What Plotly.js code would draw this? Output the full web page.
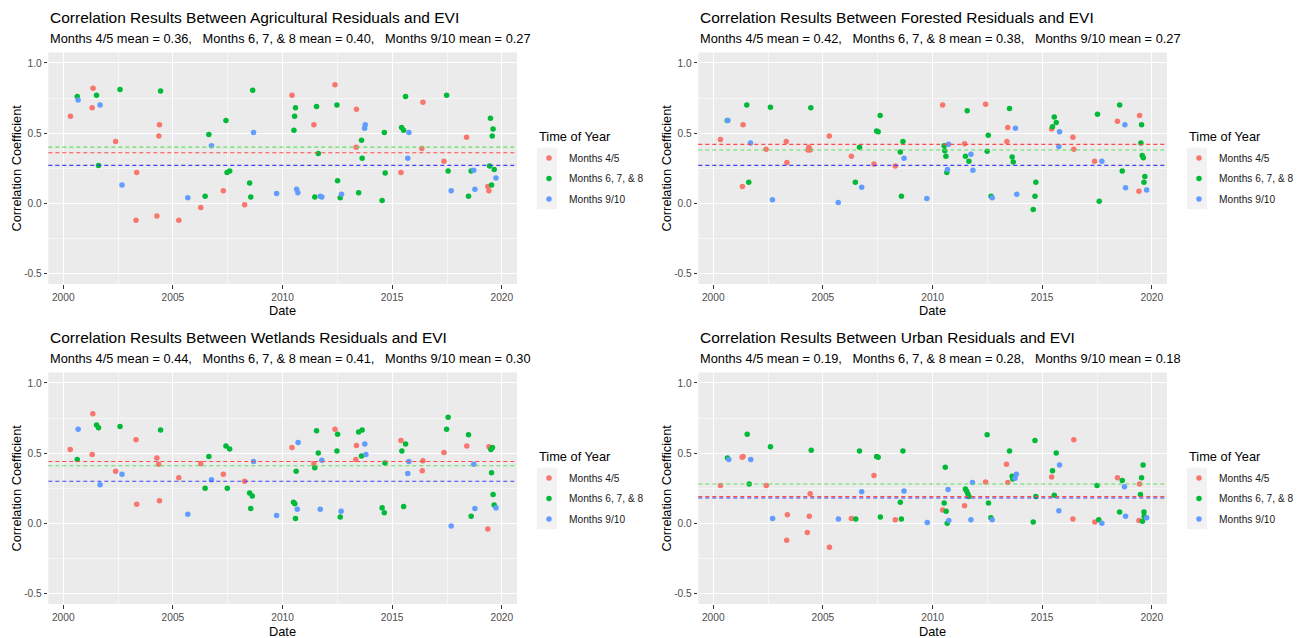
<!DOCTYPE html>
<html>
<head>
<meta charset="utf-8">
<script src="https://cdn.plot.ly/plotly-3.0.1.min.js"></script>
<style>html,body{margin:0;padding:0;background:#fff;}#chart{width:1300px;height:638px;}</style>
</head>
<body>
<div id="chart"></div>
<script>
// ---------------- DATA ----------------
const groupNames = ['Months 4/5', 'Months 6, 7, & 8', 'Months 9/10'];
const landTypes = ['Agricultural', 'Forested', 'Wetlands', 'Urban'];
const legendTitle = 'Time of Year';
const xTickVals = [2000, 2005, 2010, 2015, 2020];
const xTickText = ['2000', '2005', '2010', '2015', '2020'];
const yTickVals = [-0.5, 0, 0.5, 1];
const yTickText = ['-0.5', '0.0', '0.5', '1.0'];

// Agricultural
const agr_m45_date = [2000.33,2001.32,2001.36,2002.39,2003.32,2003.35,2004.27,2004.36,2004.39,2005.27,2006.27,2007.30,2008.27,2010.43,2011.43,2012.39,2013.36,2013.37,2015.40,2016.35,2016.40,2017.36,2018.39,2019.36,2019.41];
const agr_m45_r    = [0.62,0.68,0.82,0.44,-0.12,0.22,-0.09,0.48,0.56,-0.12,-0.03,0.09,-0.01,0.77,0.56,0.845,0.40,0.67,0.22,0.39,0.72,0.30,0.47,0.12,0.09];
const agr_m678_date = [2000.64,2001.52,2001.61,2002.59,2004.44,2006.47,2006.64,2007.42,2007.47,2007.59,2008.50,2008.55,2008.64,2010.52,2010.55,2010.59,2011.47,2011.55,2011.63,2012.48,2012.51,2012.63,2013.47,2013.60,2013.63,2014.54,2014.64,2014.68,2015.43,2015.52,2015.61,2017.48,2017.55,2018.48,2018.60,2019.44,2019.48,2019.53,2019.56,2019.60,2019.65];
const agr_m678_r    = [0.76,0.77,0.27,0.81,0.80,0.05,0.49,0.59,0.22,0.23,0.145,0.045,0.805,0.52,0.62,0.68,0.045,0.69,0.355,0.70,0.16,0.04,0.075,0.45,0.32,0.02,0.505,0.215,0.54,0.52,0.76,0.77,0.23,0.05,0.23,0.265,0.605,0.13,0.48,0.53,0.24];
const agr_m910_date = [2000.68,2001.68,2002.68,2005.68,2006.76,2008.68,2009.73,2010.64,2010.70,2011.72,2011.79,2012.69,2013.74,2013.77,2015.71,2015.76,2017.69,2018.72,2018.77,2019.73];
const agr_m910_r    = [0.735,0.70,0.13,0.04,0.41,0.505,0.07,0.10,0.075,0.05,0.045,0.065,0.535,0.56,0.32,0.505,0.09,0.235,0.10,0.18];
const agr_means = [0.36, 0.40, 0.27];

// Forested
const for_m45_date = [2000.33,2001.33,2001.36,2002.41,2003.33,2003.36,2004.32,2004.36,2004.42,2005.29,2006.30,2007.33,2008.30,2010.46,2011.46,2012.42,2013.39,2013.43,2015.43,2016.40,2016.44,2017.39,2018.43,2019.41,2019.44];
const for_m45_r    = [0.455,0.12,0.56,0.385,0.44,0.29,0.38,0.40,0.38,0.48,0.335,0.28,0.265,0.70,0.425,0.705,0.44,0.54,0.53,0.47,0.385,0.30,0.585,0.085,0.625];
const for_m678_date = [2000.64,2001.53,2001.62,2002.61,2004.45,2006.48,2006.67,2007.45,2007.52,2007.61,2008.53,2008.58,2008.65,2010.53,2010.56,2010.61,2010.65,2011.50,2011.58,2011.66,2012.49,2012.54,2012.67,2013.51,2013.63,2013.68,2014.59,2014.67,2014.71,2015.47,2015.55,2015.64,2017.52,2017.60,2018.53,2018.65,2019.50,2019.53,2019.56,2019.61,2019.64,2019.68];
const for_m678_r    = [0.59,0.70,0.15,0.685,0.68,0.15,0.40,0.515,0.51,0.625,0.365,0.05,0.44,0.41,0.375,0.335,0.22,0.335,0.66,0.30,0.37,0.485,0.05,0.675,0.33,0.295,-0.045,0.05,0.15,0.545,0.615,0.575,0.635,0.015,0.70,0.23,0.43,0.56,0.34,0.325,0.15,0.19];
const for_m910_date = [2000.67,2001.70,2002.70,2005.70,2006.77,2008.70,2009.74,2010.68,2010.73,2011.75,2011.84,2012.72,2013.78,2013.84,2015.76,2015.79,2017.72,2018.77,2018.80,2019.76];
const for_m910_r    = [0.59,0.43,0.025,0.005,0.115,0.32,0.035,0.24,0.42,0.35,0.235,0.04,0.535,0.065,0.405,0.51,0.30,0.56,0.11,0.095];
const for_means = [0.42, 0.38, 0.27];

// Wetlands
const wet_m45_date = [2000.32,2001.32,2001.35,2002.39,2003.32,2003.35,2004.27,2004.35,2004.39,2005.27,2006.27,2007.30,2008.27,2010.43,2011.43,2012.39,2013.34,2013.37,2015.40,2016.37,2016.40,2017.36,2018.40,2019.36,2019.41];
const wet_m45_r    = [0.525,0.49,0.78,0.37,0.595,0.135,0.465,0.42,0.16,0.325,0.425,0.35,0.30,0.54,0.425,0.67,0.455,0.555,0.59,0.375,0.445,0.505,0.55,-0.04,0.545];
const wet_m678_date = [2000.64,2001.52,2001.61,2002.59,2004.44,2006.47,2006.64,2007.42,2007.48,2007.59,2008.50,2008.55,2008.62,2010.50,2010.56,2010.59,2010.62,2011.47,2011.55,2011.63,2012.48,2012.51,2012.63,2013.47,2013.60,2013.63,2014.54,2014.64,2014.67,2015.44,2015.52,2015.61,2017.48,2017.55,2018.48,2018.60,2019.50,2019.53,2019.57,2019.60,2019.65];
const wet_m678_r    = [0.455,0.70,0.68,0.69,0.665,0.25,0.475,0.55,0.25,0.53,0.215,0.105,0.195,0.15,0.14,0.035,0.37,0.395,0.66,0.50,0.515,0.635,0.045,0.65,0.48,0.665,0.11,0.075,0.43,0.515,0.12,0.565,0.67,0.755,0.63,0.05,0.525,0.36,0.54,0.205,0.13];
const wet_m910_date = [2000.68,2001.68,2002.68,2005.68,2006.76,2008.68,2009.73,2010.67,2010.71,2011.72,2011.79,2012.67,2013.75,2013.80,2015.71,2015.76,2017.69,2018.72,2018.77,2019.73];
const wet_m910_r    = [0.67,0.275,0.35,0.065,0.31,0.44,0.055,0.10,0.575,0.10,0.45,0.085,0.565,0.49,0.355,0.44,-0.02,0.42,0.105,0.11];
const wet_means = [0.44, 0.41, 0.30];

// Urban
const urb_m45_date = [2000.33,2001.32,2001.36,2002.42,2003.35,2003.38,2004.29,2004.38,2004.42,2005.30,2006.30,2007.33,2008.30,2010.46,2011.46,2012.42,2013.37,2013.43,2015.43,2016.40,2016.44,2017.40,2018.43,2019.41,2019.44];
const urb_m45_r    = [0.27,0.47,0.475,0.27,-0.12,0.06,-0.065,0.05,0.21,-0.17,0.035,0.34,0.025,0.095,0.125,0.295,0.42,0.29,0.33,0.03,0.595,0.01,0.325,0.02,0.28];
const urb_m678_date = [2000.65,2001.55,2001.64,2002.61,2004.47,2006.50,2006.67,2007.45,2007.52,2007.62,2008.53,2008.58,2008.65,2010.53,2010.58,2010.62,2010.67,2011.50,2011.55,2011.61,2011.66,2012.49,2012.55,2012.66,2013.51,2013.63,2013.66,2014.59,2014.67,2014.71,2015.47,2015.55,2015.64,2017.50,2017.58,2018.53,2018.65,2019.48,2019.53,2019.57,2019.60,2019.64,2019.65];
const urb_m678_r    = [0.465,0.635,0.28,0.545,0.52,0.03,0.515,0.475,0.47,0.045,0.15,0.03,0.515,0.145,0.40,0.085,0.0,0.245,0.23,0.21,0.19,0.63,0.145,0.04,0.515,0.335,0.315,0.01,0.59,0.19,0.375,0.20,0.50,0.27,0.025,0.08,0.305,0.205,0.325,0.015,0.415,0.08,0.05];
const urb_m910_date = [2000.71,2001.71,2002.71,2005.71,2006.77,2008.70,2009.76,2010.71,2010.74,2011.75,2011.82,2012.72,2013.76,2013.82,2015.76,2015.79,2017.72,2018.75,2018.80,2019.76];
const urb_m910_r    = [0.455,0.455,0.035,0.03,0.225,0.23,0.005,0.24,0.02,0.025,0.29,0.025,0.32,0.35,0.09,0.415,0.0,0.26,0.05,0.04];
const urb_means = [0.19, 0.28, 0.18];

// ---------------- STYLE ----------------
const W = 1300, H = 638;
const FONT = 'Liberation Sans, Arial, Helvetica, sans-serif';
const pointColors = ['#F8766D', '#00BA38', '#619CFF'];
const meanColors = ['#FF4A4A', '#5EE05E', '#4242FF'];

const panels = [
  {land: landTypes[0], groups: [[agr_m45_date, agr_m45_r], [agr_m678_date, agr_m678_r], [agr_m910_date, agr_m910_r]], means: agr_means, left: 48.3, top: 52.4},
  {land: landTypes[1], groups: [[for_m45_date, for_m45_r], [for_m678_date, for_m678_r], [for_m910_date, for_m910_r]], means: for_means, left: 698.3, top: 52.4},
  {land: landTypes[2], groups: [[wet_m45_date, wet_m45_r], [wet_m678_date, wet_m678_r], [wet_m910_date, wet_m910_r]], means: wet_means, left: 48.3, top: 372.4},
  {land: landTypes[3], groups: [[urb_m45_date, urb_m45_r], [urb_m678_date, urb_m678_r], [urb_m910_date, urb_m910_r]], means: urb_means, left: 698.3, top: 372.4}
];
const PW = 468.7, PH = 231.6;
const KEY_H = 20.5;

const px = v => v / W;
const py = v => 1 - v / H;

const data = [];
const layout = {
  width: W, height: H,
  margin: {l: 0, r: 0, t: 0, b: 0},
  paper_bgcolor: '#ffffff',
  plot_bgcolor: '#EBEBEB',
  font: {family: FONT, color: '#000000'},
  showlegend: true,
  shapes: [],
  annotations: []
};

panels.forEach((p, i) => {
  const n = i === 0 ? '' : String(i + 1);
  const xa = 'x' + n, ya = 'y' + n;
  const legName = 'legend' + n;
  const xDom = [px(p.left), px(p.left + PW)];
  const yDom = [py(p.top + PH), py(p.top)];

  layout['xaxis' + n] = {
    domain: xDom, anchor: ya, range: [1999.32, 2020.69],
    tickmode: 'array', tickvals: xTickVals, ticktext: xTickText,
    showgrid: true, gridcolor: '#FFFFFF', gridwidth: 1.1,
    minor: {tickmode: 'array', tickvals: [2002.5, 2007.5, 2012.5, 2017.5], showgrid: true, gridcolor: '#FFFFFF', gridwidth: 0.55, ticks: ''},
    zeroline: false, showline: false,
    ticks: 'outside', ticklen: 3.5, tickwidth: 1, tickcolor: '#333333',
    tickfont: {family: FONT, size: 10.2, color: '#4D4D4D'},
    fixedrange: true
  };
  layout['yaxis' + n] = {
    domain: yDom, anchor: xa, range: [-0.575, 1.075],
    tickmode: 'array', tickvals: yTickVals, ticktext: yTickText,
    showgrid: true, gridcolor: '#FFFFFF', gridwidth: 1.1,
    minor: {tickmode: 'array', tickvals: [-0.25, 0.25, 0.75], showgrid: true, gridcolor: '#FFFFFF', gridwidth: 0.55, ticks: ''},
    zeroline: false, showline: false,
    ticks: 'outside', ticklen: 3.5, tickwidth: 1, tickcolor: '#333333',
    tickfont: {family: FONT, size: 10.2, color: '#4D4D4D'},
    fixedrange: true
  };

  // mean lines
  p.means.forEach((m, g) => {
    layout.shapes.push({
      type: 'line', xref: xa + ' domain', yref: ya, x0: 0, x1: 1, y0: m, y1: m,
      line: {color: meanColors[g], width: 1.1, dash: '4px,3px'}, layer: 'above'
    });
  });

  // points
  p.groups.forEach((g, gi) => {
    data.push({
      type: 'scatter', mode: 'markers', x: g[0], y: g[1], xaxis: xa, yaxis: ya,
      name: groupNames[gi], legend: legName, legendgroup: 'p' + i + 'g' + gi,
      marker: {color: pointColors[gi], size: 5.5},
      hoverinfo: 'x+y'
    });
  });

  // legend
  const legCenter = p.top + PH / 2;
  const keyLeft = p.left + PW + 20;
  const keyTop = legCenter - 20.5;
  for (let k = 0; k < 3; k++) {
    layout.shapes.push({
      type: 'rect', xref: 'paper', yref: 'paper',
      x0: px(keyLeft), x1: px(keyLeft + 20), y0: py(keyTop + k * KEY_H), y1: py(keyTop + (k + 1) * KEY_H),
      fillcolor: '#F2F2F2', line: {width: 0}, layer: 'below'
    });
  }
  layout[legName] = {
    x: px(keyLeft - 8), xanchor: 'left',
    y: py(keyTop + 1.5 * KEY_H), yanchor: 'middle',
    bgcolor: 'rgba(0,0,0,0)', borderwidth: 0,
    font: {family: FONT, size: 10.2, color: '#1A1A1A'},
    tracegroupgap: 1.5, traceorder: 'grouped'
  };
  layout.annotations.push({
    xref: 'paper', yref: 'paper', x: px(keyLeft), y: py(legCenter - 32), xanchor: 'left', yanchor: 'middle',
    text: legendTitle, showarrow: false, font: {family: FONT, size: 12.8, color: '#000000'}
  });

  // titles
  layout.annotations.push({
    xref: 'paper', yref: 'paper', x: px(p.left), y: py(p.top - 35), xanchor: 'left', yanchor: 'middle',
    text: 'Correlation Results Between ' + p.land + ' Residuals and EVI', showarrow: false,
    font: {family: FONT, size: 15.5, color: '#000000'}
  });
  const sp = '\u00a0\u00a0\u00a0';
  layout.annotations.push({
    xref: 'paper', yref: 'paper', x: px(p.left), y: py(p.top - 13.8), xanchor: 'left', yanchor: 'middle',
    text: 'Months 4/5 mean = ' + p.means[0].toFixed(2) + ',' + sp + 'Months 6, 7, & 8 mean = ' + p.means[1].toFixed(2) + ',' + sp + 'Months 9/10 mean = ' + p.means[2].toFixed(2),
    showarrow: false, font: {family: FONT, size: 12.8, color: '#000000'}
  });
  layout.annotations.push({
    xref: 'paper', yref: 'paper', x: px(p.left + PW / 2), y: py(p.top + PH + 27), xanchor: 'center', yanchor: 'middle',
    text: 'Date', showarrow: false, font: {family: FONT, size: 12.8, color: '#000000'}
  });
  layout.annotations.push({
    xref: 'paper', yref: 'paper', x: px(p.left - 32), y: py(legCenter), xanchor: 'center', yanchor: 'middle',
    text: 'Correlation Coefficient', textangle: -90, showarrow: false, font: {family: FONT, size: 12.8, color: '#000000'}
  });
});

Plotly.newPlot('chart', data, layout, {displayModeBar: false, staticPlot: true});
</script>
</body>
</html>
